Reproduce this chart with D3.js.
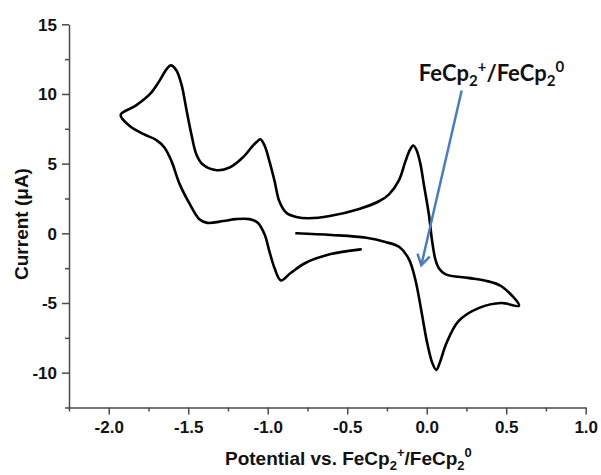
<!DOCTYPE html>
<html>
<head>
<meta charset="utf-8">
<script src="https://cdn.jsdelivr.net/npm/d3@7/dist/d3.min.js"></script>
<style>
  body { margin: 0; background: #fff; }
  svg { display: block; }
</style>
</head>
<body>
<svg id="chart" width="601" height="475"></svg>
<script>
// Cyclic voltammogram: potential (V vs. FeCp2+/FeCp2 0) and current (µA)
// First sweep: from the rest potential out to the positive switching point
const sweepPositive = [
  [-0.82, 0.0], [-0.6, -0.12], [-0.38, -0.32], [-0.26, -0.62], [-0.17, -1.0],
  [-0.11, -1.9], [-0.07, -3.4], [-0.03, -5.8], [0.0, -7.7], [0.035, -9.3],
  [0.06, -9.8], [0.085, -9.2], [0.12, -8.0], [0.2, -6.3], [0.33, -5.35],
  [0.47, -5.0], [0.58, -5.2]
];
// Second sweep: back to the negative switching point
const sweepNegative = [
  [0.58, -5.2], [0.47, -3.8], [0.37, -3.4], [0.26, -3.2], [0.12, -2.95],
  [0.076, -2.5], [0.055, -1.9], [0.034, -0.55], [0.013, 1.4], [-0.018, 3.5],
  [-0.04, 5.0], [-0.065, 6.0], [-0.085, 6.3], [-0.105, 6.0], [-0.133, 5.2],
  [-0.175, 3.8], [-0.237, 2.8], [-0.3, 2.3], [-0.43, 1.73], [-0.61, 1.24],
  [-0.74, 1.08], [-0.82, 1.17], [-0.885, 1.5], [-0.927, 2.3], [-0.958, 3.8],
  [-0.99, 5.2], [-1.02, 6.3], [-1.046, 6.75], [-1.07, 6.55], [-1.094, 6.28],
  [-1.157, 5.44], [-1.24, 4.72], [-1.32, 4.53], [-1.41, 4.96], [-1.45, 5.7],
  [-1.48, 7.1], [-1.51, 8.8], [-1.543, 10.7], [-1.575, 11.7], [-1.61, 12.05],
  [-1.635, 11.8], [-1.68, 10.96], [-1.74, 10.0], [-1.83, 9.16], [-1.925, 8.5]
];
// Third sweep: forward again to the end of the scan
const sweepReturn = [
  [-1.925, 8.5], [-1.87, 7.72], [-1.78, 7.12], [-1.7, 6.69], [-1.65, 6.16],
  [-1.606, 5.2], [-1.554, 3.53], [-1.49, 2.09], [-1.43, 1.01], [-1.38, 0.75],
  [-1.28, 0.88], [-1.2, 1.02], [-1.115, 1.02], [-1.063, 0.76], [-1.02, -0.07],
  [-0.99, -1.27], [-0.958, -2.47], [-0.917, -3.38], [-0.854, -2.83],
  [-0.76, -2.11], [-0.61, -1.51], [-0.415, -1.15]
];

const xDomain = [-2.25, 1.0];
const yDomain = [-12.5, 15];
const xTicks = [-2.0, -1.5, -1.0, -0.5, 0.0, 0.5, 1.0];
const xMinorTicks = [-2.25, -1.75, -1.25, -0.75, -0.25, 0.25, 0.75];
const yTicks = [-10, -5, 0, 5, 10, 15];
const yMinorTicks = [-12.5, -7.5, -2.5, 2.5, 7.5, 12.5];

// Arrow pointing at the ferrocene couple, in data units: [tail, head]
const refArrow = [[0.22, 10.25], [-0.034, -2.28]];
const refLabelAt = [-0.05, 10.9];

const svg = d3.select("#chart");
const x = d3.scaleLinear().domain(xDomain).range([69, 585.7]);
const y = d3.scaleLinear().domain(yDomain).range([407.5, 24.3]);

const axisColor = "#4a4a4a";
const tickFont = "'Liberation Sans', Arial, sans-serif";
const hyphen = s => s.replace("\u2212", "-");

// Bottom axis: major ticks with labels, minor ticks without
const gx = svg.append("g").attr("transform", `translate(0,${y(yDomain[0])})`);
gx.call(d3.axisBottom(x).tickValues(xTicks).tickSize(7).tickSizeOuter(0)
  .tickFormat(d => hyphen(d3.format(".1f")(d))));
const gxm = svg.append("g").attr("transform", `translate(0,${y(yDomain[0])})`);
gxm.call(d3.axisBottom(x).tickValues(xMinorTicks).tickSize(4).tickSizeOuter(0).tickFormat(""));
gxm.select(".domain").remove();

// Left axis
const gy = svg.append("g").attr("transform", `translate(${x(xDomain[0])},0)`);
gy.call(d3.axisLeft(y).tickValues(yTicks).tickSize(7).tickSizeOuter(0)
  .tickFormat(d => hyphen(d3.format("d")(d))));
const gym = svg.append("g").attr("transform", `translate(${x(xDomain[0])},0)`);
gym.call(d3.axisLeft(y).tickValues(yMinorTicks).tickSize(4).tickSizeOuter(0).tickFormat(""));
gym.select(".domain").remove();

svg.selectAll(".domain, .tick line")
  .attr("stroke", axisColor).attr("stroke-width", 1.5);
svg.selectAll(".tick text")
  .attr("fill", "#111").attr("font-family", tickFont)
  .attr("font-weight", "bold").attr("font-size", 17);
gx.selectAll(".tick text").attr("dy", "0.71em").attr("y", 13);
gy.selectAll(".tick text").attr("x", -12).attr("dy", "0.35em");

// Axis titles
const xTitle = svg.append("text")
  .attr("x", 225).attr("y", 465)
  .attr("font-family", tickFont).attr("font-weight", "bold")
  .attr("font-size", 19).attr("fill", "#111");
xTitle.append("tspan").text("Potential vs. FeCp");
xTitle.append("tspan").attr("dy", 5).attr("font-size", 13).text("2");
xTitle.append("tspan").attr("dy", -13).attr("font-size", 13).text("+");
xTitle.append("tspan").attr("dy", 8).text("/FeCp");
xTitle.append("tspan").attr("dy", 5).attr("font-size", 13).text("2");
xTitle.append("tspan").attr("dy", -13).attr("font-size", 13).text("0");

svg.append("text")
  .attr("transform", "translate(28,224) rotate(-90)")
  .attr("text-anchor", "middle")
  .attr("font-family", tickFont).attr("font-weight", "bold")
  .attr("font-size", 19).attr("fill", "#111")
  .text("Current (\u03bcA)");

// The voltammogram trace
const trace = sweepPositive
  .concat(sweepNegative.slice(1))
  .concat(sweepReturn.slice(1));
const line = d3.line()
  .x(d => x(d[0])).y(d => y(d[1]))
  .curve(d3.curveCatmullRom.alpha(0.5));
svg.append("path")
  .attr("d", line(trace))
  .attr("fill", "none").attr("stroke", "#000")
  .attr("stroke-width", 2.6).attr("stroke-linejoin", "round")
  .attr("stroke-linecap", "round");

// Annotation: label and arrow
const arrowBlue = "#4a7ebb";
const [tail, head] = refArrow.map(p => [x(p[0]), y(p[1])]);
svg.append("line")
  .attr("x1", tail[0]).attr("y1", tail[1])
  .attr("x2", head[0]).attr("y2", head[1])
  .attr("stroke", arrowBlue).attr("stroke-width", 2.5);
const ang = Math.atan2(head[1] - tail[1], head[0] - tail[0]);
const wing = 12, spread = 0.55;
const w1 = [head[0] - wing * Math.cos(ang - spread), head[1] - wing * Math.sin(ang - spread)];
const w2 = [head[0] - wing * Math.cos(ang + spread), head[1] - wing * Math.sin(ang + spread)];
svg.append("path")
  .attr("d", `M${w1[0]},${w1[1]}L${head[0]},${head[1]}L${w2[0]},${w2[1]}`)
  .attr("fill", "none").attr("stroke", arrowBlue)
  .attr("stroke-width", 2.5).attr("stroke-linejoin", "miter");

const label = svg.append("text")
  .attr("x", x(refLabelAt[0])).attr("y", y(refLabelAt[1]))
  .attr("font-family", "Lato, 'Open Sans', sans-serif").attr("font-weight", "bold")
  .attr("font-size", 22).attr("fill", "#111");
label.append("tspan").text("FeCp");
label.append("tspan").attr("dy", 5).attr("font-size", 15).text("2");
label.append("tspan").attr("dy", -14).attr("font-size", 15).text("+");
label.append("tspan").attr("dy", 9).text("/FeCp");
label.append("tspan").attr("dy", 5).attr("font-size", 15).text("2");
label.append("tspan").attr("dy", -14).attr("font-size", 15).text("0");
</script>
</body>
</html>
